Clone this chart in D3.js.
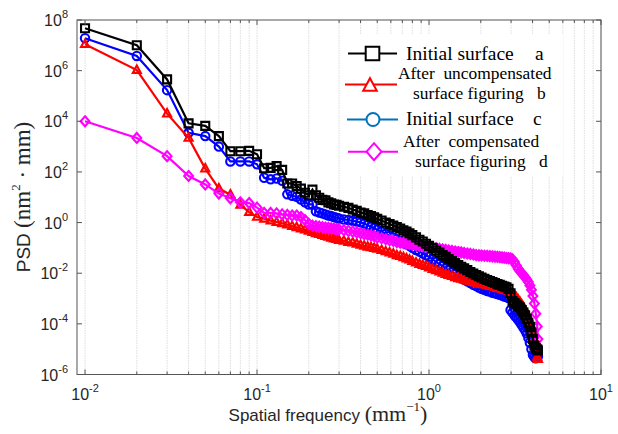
<!DOCTYPE html>
<html>
<head>
<meta charset="utf-8">
<script src="https://cdn.jsdelivr.net/npm/d3@7"></script>
<style>
body { margin: 0; background: #fff; }
</style>
</head>
<body>
<div id="chart"></div>
<script>
// Frequencias (mm^-1)
var freq = [0.01,0.02,0.03,0.04,0.05,0.06,0.07,0.08,0.09,0.10,
  0.11,0.12,0.13,0.14,0.15,0.16,0.17,0.18,0.19,0.20,
  0.21,0.22,0.23,0.24,0.25,0.26,0.27,0.28,0.29,0.30,
  0.32,0.34,0.36,0.38,0.40,0.42,0.44,0.46,0.48,0.50,
  0.53,0.56,0.59,0.62,0.65,0.68,0.71,0.74,0.77,0.80,
  0.84,0.88,0.92,0.96,1.00,1.05,1.10,1.15,1.20,1.25,
  1.30,1.36,1.42,1.48,1.54,1.60,1.67,1.74,1.81,1.88,
  1.95,2.02,2.10,2.18,2.26,2.34,2.42,2.50,2.58,2.66,
  2.74,2.82,2.90,2.98,3.06,3.14,3.22,3.30,3.38,3.46,
  3.54,3.62,3.70,3.78,3.86,3.94,4.02,4.10,4.18,4.26,
  4.30];

// Initial surface a (preto)
var psdA = [4.7e7,1.0e7,4.5e5,8.3e3,6.6e3,2.6e3,6.6e2,6.6e2,6.8e2,5.0e2,
  1.4e2,1.45e2,1.7e2,1.2e2,35,35,28,22,15,12,
  20,12,9.5,7.9,7.6,6.3,5.8,5.2,5.0,4.6,
  4.2,3.8,3.3,2.9,2.5,2.3,2.0,1.8,1.6,1.4,
  1.2,1.0,0.87,0.76,0.66,0.58,0.50,0.44,0.38,0.32,
  0.26,0.21,0.18,0.145,0.12,0.10,0.079,0.065,0.052,0.044,
  0.036,0.030,0.025,0.021,0.018,0.0155,0.0132,0.0112,0.0098,0.0085,
  0.0076,0.0068,0.0060,0.0054,0.0049,0.0045,0.0041,0.0037,0.0035,0.0032,
  0.0030,0.0028,0.0024,0.0016,7.9e-4,6.6e-4,5.8e-4,5.0e-4,4.4e-4,3.5e-4,
  2.8e-4,2.2e-4,1.6e-4,1.1e-4,7.6e-5,4.5e-5,2.5e-5,1.4e-5,1.1e-5,1.0e-5,
  8.9e-6];

// After uncompensated surface figuring b (vermelho)
var psdB = [1.1e7,1.05e6,2.0e4,2.2e3,1.35e2,22,12.6,5.0,2.6,1.66,
  1.41,1.2,1.05,0.93,0.83,0.72,0.65,0.58,0.52,0.47,
  0.42,0.37,0.35,0.32,0.29,0.27,0.25,0.23,0.22,0.20,
  0.19,0.17,0.16,0.145,0.13,0.12,0.11,0.105,0.098,0.091,
  0.081,0.072,0.065,0.058,0.051,0.047,0.042,0.038,0.034,0.030,
  0.026,0.023,0.021,0.019,0.0166,0.0145,0.0129,0.0115,0.0102,0.0091,
  0.0083,0.0076,0.0069,0.0063,0.0059,0.0055,0.0050,0.0047,0.0044,0.0041,
  0.0039,0.0037,0.0035,0.0033,0.0031,0.0030,0.0028,0.0026,0.0025,0.0023,
  0.0022,0.0021,0.0020,0.0018,0.0016,0.0013,0.0011,8.9e-4,7.2e-4,5.8e-4,
  4.5e-4,3.4e-4,2.5e-4,1.8e-4,1.26e-4,8.3e-5,5.0e-5,2.5e-5,1.1e-5,5.0e-6,
  4.0e-6];

// Initial surface c (azul)
var psdC = [1.9e7,3.8e6,1.7e5,3.5e3,2.6e3,1.0e3,2.6e2,2.6e2,2.6e2,2.0e2,
  59,51,55,45,13,11.5,10.5,8.1,6.3,5.2,
  5.2,2.8,2.5,2.3,2.1,1.9,1.8,1.66,1.55,1.45,
  1.32,1.26,1.17,1.10,1.02,0.91,0.79,0.69,0.60,0.52,
  0.44,0.36,0.30,0.26,0.22,0.19,0.16,0.14,0.12,0.10,
  0.083,0.071,0.060,0.051,0.045,0.035,0.028,0.023,0.019,0.0155,
  0.0132,0.011,0.0091,0.0078,0.0066,0.0056,0.0048,0.0041,0.0035,0.0031,
  0.0027,0.0024,0.0022,0.0020,0.0019,0.0017,0.0016,0.0015,0.0014,0.0013,
  0.0012,0.00115,0.00105,3.5e-4,2.8e-4,2.2e-4,1.8e-4,1.45e-4,1.15e-4,9.1e-5,
  7.2e-5,5.6e-5,4.2e-5,2.8e-5,1.8e-5,1.0e-5,6.0e-6,4.8e-6,4.4e-6,4.7e-6,
  5.2e-6];

// After compensated surface figuring d (magenta)
var psdD = [1.0e4,2.2e3,4.2e2,69,32,14,9.1,6.3,5.9,3.9,
  2.4,2.4,2.3,2.1,2.0,1.9,1.9,1.66,1.26,0.89,
  0.76,0.72,0.69,0.66,0.63,0.62,0.59,0.58,0.55,0.54,
  0.50,0.47,0.44,0.41,0.38,0.35,0.33,0.31,0.29,0.26,
  0.24,0.22,0.20,0.19,0.17,0.16,0.155,0.148,0.141,0.135,
  0.129,0.123,0.117,0.112,0.107,0.102,0.095,0.091,0.087,0.083,
  0.079,0.076,0.072,0.069,0.066,0.063,0.060,0.058,0.055,0.052,
  0.051,0.050,0.049,0.048,0.047,0.046,0.045,0.044,0.043,0.042,
  0.041,0.040,0.039,0.038,0.035,0.028,0.020,0.015,0.012,0.010,
  0.0083,0.0069,0.0056,0.0045,0.0033,0.0022,0.00126,6.3e-4,2.5e-4,7.9e-5,
  2.5e-5];

// Rotulos dos ticks (expoentes)
var xExp = [-2, -1, 0, 1];
var yExp = [-6, -4, -2, 0, 2, 4, 6, 8];

// Legenda
var legendItems = [
  {lines: ["Initial surface"], letter: "a", key: "a"},
  {lines: ["After  uncompensated", "surface figuring"], letter: "b", key: "b"},
  {lines: ["Initial surface"], letter: "c", key: "c"},
  {lines: ["After  compensated", "surface figuring"], letter: "d", key: "d"}
];

var serif = "'Times New Roman', 'Liberation Serif', serif";
var sans = "Arial, 'Liberation Sans', Helvetica, sans-serif";

// Tamanho do svg
var w = 618, h = 434;
var margin = {top: 20, right: 17, bottom: 59.5, left: 77};
var width = w - margin.left - margin.right;
var height = h - margin.top - margin.bottom;

var svg = d3.select("#chart").append("svg")
  .attr("width", w).attr("height", h);

var g = svg.append("g")
  .attr("transform", "translate(" + margin.left + "," + margin.top + ")");

// Escalas
var x = d3.scaleLog().domain([0.00898, 10]).range([0, width]);
var y = d3.scaleLog().domain([1e-6, 1e8]).range([height, 0]);

var xAll = x.ticks().filter(function(t) { return t >= 0.00999; });

// Grade vertical
g.append("g").selectAll("line")
  .data(xAll)
  .enter().append("line")
  .attr("x1", function(d) { return x(d); })
  .attr("x2", function(d) { return x(d); })
  .attr("y1", 0).attr("y2", height)
  .attr("stroke", "#d6d6d6")
  .attr("stroke-width", 0.8)
  .attr("stroke-dasharray", "1.5,1");

// Series
var series = [
  {key: "c", vals: psdC, color: "#0000ff", shape: "circle"},
  {key: "b", vals: psdB, color: "#ff0000", shape: "triangle"},
  {key: "d", vals: psdD, color: "#ff00ff", shape: "diamond"},
  {key: "a", vals: psdA, color: "#000000", shape: "square"}
];

function shapePath(shape, s) {
  if (shape == "square") return "M" + (-s) + "," + (-s) + "H" + s + "V" + s + "H" + (-s) + "Z";
  if (shape == "triangle") return "M0," + (-s * 1.15) + "L" + (s) + "," + (s * 0.7) + "L" + (-s) + "," + (s * 0.7) + "Z";
  if (shape == "diamond") return "M0," + (-s * 1.25) + "L" + s * 1.1 + ",0L0," + (s * 1.25) + "L" + (-s * 1.1) + ",0Z";
  return "M" + (-s) + ",0A" + s + "," + s + " 0 1,0 " + s + ",0A" + s + "," + s + " 0 1,0 " + (-s) + ",0Z";
}

var line = d3.line()
  .x(function(d) { return x(d[0]); })
  .y(function(d) { return y(d[1]); });

series.forEach(function(s) {
  var pts = freq.map(function(f, i) { return [f, s.vals[i]]; });
  var sg = g.append("g");
  sg.append("path")
    .datum(pts)
    .attr("d", line)
    .attr("fill", "none")
    .attr("stroke", s.color)
    .attr("stroke-width", 2.2);
  sg.selectAll(".m")
    .data(pts)
    .enter().append("path")
    .attr("transform", function(d) { return "translate(" + x(d[0]) + "," + y(d[1]) + ")"; })
    .attr("d", shapePath(s.shape, s.shape == "circle" ? 4.2 : 4))
    .attr("fill", "none")
    .attr("stroke", s.color)
    .attr("stroke-width", 2.1);
});

// Caixa e ticks
var axisColor = "#555";
g.append("rect")
  .attr("width", width).attr("height", height)
  .attr("fill", "none").attr("stroke", axisColor).attr("stroke-width", 1);

var ticks = g.append("g").attr("stroke", axisColor).attr("stroke-width", 1);
xAll.forEach(function(t) {
  var major = xExp.indexOf(Math.round(Math.log10(t))) >= 0 && Math.abs(Math.log10(t) - Math.round(Math.log10(t))) < 1e-6;
  var len = major ? 5 : 3;
  ticks.append("line").attr("x1", x(t)).attr("x2", x(t)).attr("y1", height).attr("y2", height - len);
  ticks.append("line").attr("x1", x(t)).attr("x2", x(t)).attr("y1", 0).attr("y2", len);
});
yExp.forEach(function(e) {
  var yy = y(Math.pow(10, e));
  ticks.append("line").attr("x1", 0).attr("x2", 5).attr("y1", yy).attr("y2", yy);
  ticks.append("line").attr("x1", width).attr("x2", width - 5).attr("y1", yy).attr("y2", yy);
});

// Rotulos dos ticks
var txtColor = "#262626";
xExp.forEach(function(e) {
  var t = g.append("text")
    .attr("x", x(Math.pow(10, e)))
    .attr("y", height + 25)
    .attr("text-anchor", "middle")
    .attr("font-family", sans)
    .attr("font-size", "16px")
    .attr("fill", txtColor);
  t.append("tspan").text("10");
  t.append("tspan").attr("font-size", "11px").attr("dy", -8).text(e);
});
yExp.forEach(function(e) {
  var t = g.append("text")
    .attr("x", -9)
    .attr("y", y(Math.pow(10, e)) + 6)
    .attr("text-anchor", "end")
    .attr("font-family", sans)
    .attr("font-size", "16px")
    .attr("fill", txtColor);
  t.append("tspan").text("10");
  t.append("tspan").attr("font-size", "11px").attr("dy", -8).text(e);
});

// Titulos dos eixos
var xl = svg.append("text")
  .attr("x", 328).attr("y", 421)
  .attr("text-anchor", "middle")
  .attr("fill", txtColor);
xl.append("tspan").attr("font-family", sans).attr("font-size", "17px").text("Spatial frequency ");
xl.append("tspan").attr("font-family", serif).attr("font-size", "22px").text("(mm");
xl.append("tspan").attr("font-family", serif).attr("font-size", "13px").attr("dy", -10).text("\u22121");
xl.append("tspan").attr("font-family", serif).attr("font-size", "22px").attr("dy", 10).text(")");

var yl = svg.append("text")
  .attr("transform", "translate(30,197) rotate(-90)")
  .attr("text-anchor", "middle")
  .attr("fill", txtColor);
yl.append("tspan").attr("font-family", sans).attr("font-size", "19px").text("PSD ");
yl.append("tspan").attr("font-family", serif).attr("font-size", "23px").text("(nm");
yl.append("tspan").attr("font-family", serif).attr("font-size", "13px").attr("dy", -10).text("2");
yl.append("tspan").attr("font-family", serif).attr("font-size", "23px").attr("dy", 10).text(" \u00b7 mm)");

// Legenda
var legendColor = {a: "#000000", b: "#ff0000", c: "#0072bd", d: "#ff00ff"};
var legendShape = {a: "square", b: "triangle", c: "circle", d: "diamond"};
var legendRows = [
  {ly: 53.5, x1: 348, x2: 397, mx: 372.5, tx: [406], ty: [59.5], lx: 535, fs: 19.5},
  {ly: 84.5, x1: 345, x2: 397, mx: 370, tx: [398, 413], ty: [78.5, 98.5], lx: 537, fs: 17.4},
  {ly: 119.5, x1: 347, x2: 398, mx: 373, tx: [406], ty: [125], lx: 533, fs: 19.5},
  {ly: 151.7, x1: 348, x2: 398, mx: 374, tx: [403, 415], ty: [146.7, 167.3], lx: 539, fs: 17.4}
];

var leg = svg.append("g");
leg.append("rect")
  .attr("x", 344).attr("y", 34).attr("width", 219).attr("height", 142)
  .attr("fill", "#fff");

legendItems.forEach(function(item, i) {
  var r = legendRows[i];
  var c = legendColor[item.key];
  leg.append("line")
    .attr("x1", r.x1).attr("x2", r.x2).attr("y1", r.ly).attr("y2", r.ly)
    .attr("stroke", c).attr("stroke-width", 2);
  leg.append("path")
    .attr("transform", "translate(" + r.mx + "," + (r.ly + (item.key == "b" ? 1.5 : 0)) + ")")
    .attr("d", shapePath(legendShape[item.key], legendShape[item.key] == "circle" ? 6.5 : 6.8))
    .attr("fill", "#fff")
    .attr("stroke", c).attr("stroke-width", 2);
  item.lines.forEach(function(s, j) {
    leg.append("text")
      .attr("x", r.tx[j]).attr("y", r.ty[j])
      .attr("font-family", serif).attr("font-size", r.fs + "px")
      .attr("fill", "#000")
      .attr("xml:space", "preserve")
      .text(s);
  });
  leg.append("text")
    .attr("x", r.lx).attr("y", r.ty[r.ty.length - 1])
    .attr("font-family", serif).attr("font-size", r.fs + "px")
    .attr("fill", "#000")
    .text(item.letter);
});
</script>
</body>
</html>
